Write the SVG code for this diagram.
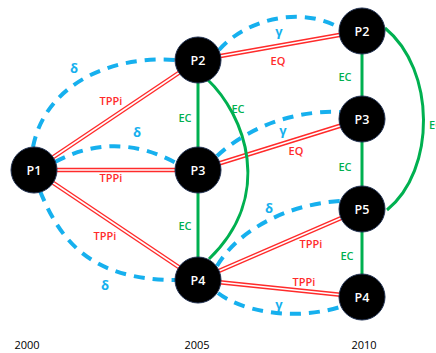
<svg xmlns="http://www.w3.org/2000/svg" width="436" height="353" viewBox="0 0 436 353">
<style>
.red{fill:none;stroke:#ff2b2b;stroke-width:4.5}
.redw{fill:none;stroke:#ffffff;stroke-width:1.6}
.green{fill:none;stroke:#00b050;stroke-width:3}
.blue{fill:none;stroke:#16b0ee;stroke-width:4;stroke-dasharray:11 8}
.node circle{fill:#000;stroke:#1f2f4f;stroke-width:1}
.node text{fill:#fff;font-family:"Open Sans","Liberation Sans",sans-serif;font-size:12.5px;font-weight:600;text-anchor:middle}
.lr{fill:#ff2b2b;font-family:"Open Sans","Liberation Sans",sans-serif;font-size:11px;font-weight:600;text-anchor:middle}
.lg{fill:#00b050;font-family:"Open Sans","Liberation Sans",sans-serif;font-size:11px;font-weight:600;text-anchor:middle}
.lb{fill:#16b0ee;font-family:"Open Sans","Liberation Sans",sans-serif;font-size:13px;font-weight:bold;text-anchor:middle}
.yr{fill:#000;font-family:"Open Sans","Liberation Sans",sans-serif;font-size:11px;text-anchor:middle}
</style>
<rect width="436" height="353" fill="#fff"/>
<g id="connectors">
  <g>
    <path class="red" d="M34,170 L198,60"/><path class="redw" d="M34,170 L198,60"/>
    <path class="red" d="M34,170 L198,170"/><path class="redw" d="M34,170 L198,170"/>
    <path class="red" d="M34,170 L198,280"/><path class="redw" d="M34,170 L198,280"/>
    <path class="red" d="M198,60 L362,31"/><path class="redw" d="M198,60 L362,31"/>
    <path class="red" d="M198,170 L362,119"/><path class="redw" d="M198,170 L362,119"/>
    <path class="red" d="M198,280 L362,209"/><path class="redw" d="M198,280 L362,209"/>
    <path class="red" d="M198,280 L362,297"/><path class="redw" d="M198,280 L362,297"/>
  </g>
  <path class="green" d="M198,60 L198,170"/>
  <path class="green" d="M198,170 L198,280"/>
  <path class="green" d="M207,79 C245,115 275,195 209,259"/>
  <path class="green" d="M362,31 L362,119"/>
  <path class="green" d="M362,119 L362,209"/>
  <path class="green" d="M362,209 L362,297"/>
  <path class="green" d="M385,28 C436,70 436,170 387,210"/>
  <path class="blue" d="M33,147 C45,85 110,55 176,60"/>
  <path class="blue" d="M55,162 Q115,130 176,163"/>
  <path class="blue" d="M40,191 C60,240 90,280 176,280"/>
  <path class="blue" d="M219,50 C245,20 300,5 340,28"/>
  <path class="blue" d="M217,156 C245,130 290,110 340,112"/>
  <path class="blue" d="M217,266 C235,235 280,205 340,201"/>
  <path class="blue" d="M218,293 C240,310 290,322 340,307"/>
  <text class="lr" x="111" y="105">TPPi</text>
  <text class="lr" x="111" y="182">TPPi</text>
  <text class="lr" x="105" y="240">TPPi</text>
  <text class="lr" x="278" y="65">EQ</text>
  <text class="lr" x="296" y="155">EQ</text>
  <text class="lr" x="311" y="248">TPPi</text>
  <text class="lr" x="304" y="286">TPPi</text>
  <text class="lg" x="185" y="122">EC</text>
  <text class="lg" x="185" y="230">EC</text>
  <text class="lg" x="238" y="113">EC</text>
  <text class="lg" x="345" y="81">EC</text>
  <text class="lg" x="345" y="171">EC</text>
  <text class="lg" x="347" y="260">EC</text>
  <text class="lg" x="429" y="129" style="text-anchor:start">EC</text>
  <text class="lb" x="74" y="73">δ</text>
  <text class="lb" x="137" y="137">δ</text>
  <text class="lb" x="105" y="290">δ</text>
  <text class="lb" x="279" y="36">γ</text>
  <text class="lb" x="283" y="135">γ</text>
  <text class="lb" x="269" y="213">δ</text>
  <text class="lb" x="279" y="309">γ</text>
</g>
<g id="P1" class="node"><circle cx="34" cy="170" r="23"/><text x="34" y="175">P1</text></g>
<g id="P2_2005" class="node"><circle cx="198" cy="60" r="23"/><text x="198" y="65">P2</text></g>
<g id="P3_2005" class="node"><circle cx="198" cy="170" r="23"/><text x="198" y="175">P3</text></g>
<g id="P4_2005" class="node"><circle cx="198" cy="280" r="23"/><text x="198" y="285">P4</text></g>
<g id="P2_2010" class="node"><circle cx="362" cy="31" r="23"/><text x="362" y="36">P2</text></g>
<g id="P3_2010" class="node"><circle cx="362" cy="119" r="23"/><text x="362" y="124">P3</text></g>
<g id="P5_2010" class="node"><circle cx="362" cy="209" r="23"/><text x="362" y="214">P5</text></g>
<g id="P4_2010" class="node"><circle cx="362" cy="297" r="23"/><text x="362" y="302">P4</text></g>
<text class="yr" x="27" y="349">2000</text>
<text class="yr" x="197" y="349">2005</text>
<text class="yr" x="364" y="349">2010</text>
</svg>
